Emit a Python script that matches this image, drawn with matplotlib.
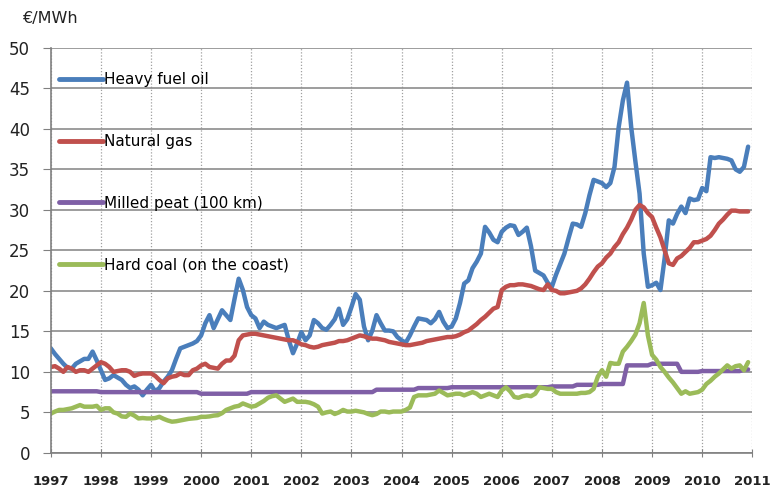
import numpy as np
import matplotlib
matplotlib.use("Agg")
import matplotlib.pyplot as plt

# monthly prices, Jan 1997 - Dec 2010 (EUR/MWh)
heavy_fuel_oil = [
    12.9, 12.2, 11.6, 11.0, 10.5, 10.4, 11.0, 11.3, 11.6, 11.6, 12.5, 11.4,   # 1997
    10.2, 9.0, 9.2, 9.6, 9.3, 9.0, 8.4, 8.0, 8.2, 7.8, 7.1, 7.8,              # 1998
    8.4, 7.6, 8.0, 8.8, 9.4, 10.2, 11.6, 12.9, 13.1, 13.3, 13.5, 13.8,       # 1999
    14.5, 16.0, 17.0, 15.4, 16.5, 17.6, 17.0, 16.4, 19.0, 21.5, 20.1, 18.0,  # 2000
    17.0, 16.6, 15.4, 16.2, 15.8, 15.6, 15.4, 15.6, 15.8, 13.9, 12.3, 13.5,  # 2001
    14.9, 13.9, 14.5, 16.4, 16.0, 15.4, 15.2, 15.8, 16.5, 17.8, 15.8, 16.5,  # 2002
    18.0, 19.6, 18.9, 15.6, 13.9, 15.1, 17.0, 16.0, 15.1, 15.1, 15.0, 14.3,  # 2003
    13.9, 13.6, 14.5, 15.6, 16.6, 16.5, 16.4, 16.0, 16.5, 17.4, 16.2, 15.4,  # 2004
    15.6, 16.6, 18.5, 20.9, 21.3, 22.8, 23.6, 24.6, 27.9, 27.2, 26.3, 26.0,  # 2005
    27.3, 27.8, 28.1, 28.0, 26.9, 27.3, 27.8, 25.5, 22.5, 22.2, 21.9, 21.0,  # 2006
    20.5, 22.0, 23.3, 24.6, 26.5, 28.3, 28.2, 27.9, 29.6, 31.8, 33.7, 33.5,  # 2007
    33.3, 32.8, 33.3, 35.3, 40.2, 43.5, 45.7, 40.2, 36.0, 32.0, 24.6, 20.5,  # 2008
    20.7, 21.0, 20.1, 24.0, 28.7, 28.3, 29.5, 30.4, 29.6, 31.4, 31.2, 31.3,  # 2009
    32.7, 32.3, 36.5, 36.4, 36.5, 36.4, 36.3, 36.1, 35.0, 34.7, 35.3, 37.8,  # 2010
]
natural_gas = [
    10.6, 10.7, 10.4, 10.0, 10.6, 10.4, 10.0, 10.2, 10.2, 10.0, 10.4, 10.8,
    11.2, 11.0, 10.6, 10.0, 10.1, 10.2, 10.2, 10.0, 9.5, 9.7, 9.8, 9.8,
    9.8, 9.5, 9.0, 8.6, 9.2, 9.4, 9.5, 9.8, 9.6, 9.6, 10.2, 10.4,
    10.8, 11.0, 10.6, 10.5, 10.4, 11.0, 11.4, 11.4, 12.0, 13.9, 14.5, 14.6,
    14.7, 14.7, 14.6, 14.5, 14.4, 14.3, 14.2, 14.1, 14.0, 13.9, 13.9, 13.7,
    13.4, 13.3, 13.1, 13.0, 13.1, 13.3, 13.4, 13.5, 13.6, 13.8, 13.8, 13.9,
    14.1, 14.3, 14.5, 14.4, 14.2, 14.1, 14.1, 14.0, 13.9, 13.7, 13.6, 13.5,
    13.4, 13.3, 13.3, 13.4, 13.5, 13.6, 13.8, 13.9, 14.0, 14.1, 14.2, 14.3,
    14.3, 14.4, 14.6, 14.9, 15.1, 15.5, 15.9, 16.4, 16.8, 17.3, 17.8, 18.0,
    20.1, 20.5, 20.7, 20.7, 20.8, 20.8, 20.7, 20.6, 20.4, 20.2, 20.1, 20.8,
    20.1, 20.0, 19.7, 19.7, 19.8, 19.9, 20.0, 20.3, 20.8, 21.5, 22.3, 23.0,
    23.4, 24.1, 24.6, 25.4, 26.0, 27.0, 27.8, 28.8, 30.0, 30.6, 30.3, 29.6,
    29.1, 27.8, 26.6, 25.0, 23.4, 23.2, 24.0, 24.3, 24.8, 25.3, 26.0, 26.0,
    26.2, 26.4, 26.8, 27.5, 28.3, 28.8, 29.4, 29.9, 29.9, 29.8, 29.8, 29.8,
]
milled_peat = (
    [7.6] * 12 + [7.5] * 12 + [7.5] * 12 + [7.3] * 12 + [7.5] * 12 + [7.5] * 12
    + [7.5] * 6 + [7.8] * 6
    + [7.8] * 4 + [8.0] * 8
    + [8.1] * 12 + [8.1] * 12
    + [8.2] * 6 + [8.4] * 6
    + [8.5] * 6 + [10.8] * 6
    + [11.0] * 7 + [10.0] * 5
    + [10.1] * 10 + [10.3] * 2
)
hard_coal = [
    4.85, 5.1, 5.3, 5.3, 5.4, 5.5, 5.7, 5.9, 5.7, 5.7, 5.7, 5.8,
    5.3, 5.5, 5.5, 5.0, 4.85, 4.5, 4.45, 4.85, 4.6, 4.25, 4.3, 4.25,
    4.25, 4.3, 4.45, 4.2, 4.0, 3.85, 3.9, 4.0, 4.1, 4.2, 4.25, 4.3,
    4.45, 4.45, 4.5, 4.6, 4.65, 4.9, 5.3, 5.5, 5.7, 5.8, 6.1, 5.9,
    5.7, 5.8, 6.1, 6.4, 6.8, 7.0, 7.1, 6.7, 6.3, 6.5, 6.7, 6.3,
    6.3, 6.3, 6.2, 6.0, 5.7, 4.85, 5.0, 5.1, 4.8, 5.0, 5.3, 5.1,
    5.1, 5.2, 5.1, 5.0, 4.8, 4.65, 4.8, 5.1, 5.1, 5.0, 5.1, 5.1,
    5.1, 5.3, 5.6, 6.9, 7.1, 7.1, 7.1, 7.2, 7.3, 7.7, 7.4, 7.1,
    7.2, 7.3, 7.3, 7.1, 7.3, 7.5, 7.3, 6.9, 7.1, 7.3, 7.1, 6.9,
    7.7, 8.1, 7.6, 6.9, 6.8, 7.0, 7.1, 7.0, 7.3, 8.1, 8.0, 7.9,
    7.9, 7.5, 7.3, 7.3, 7.3, 7.3, 7.3, 7.4, 7.4, 7.5, 7.9, 9.4,
    10.2, 9.4, 11.1, 11.0, 11.0, 12.5, 13.1, 13.8, 14.6, 16.0, 18.5, 14.5,
    12.1, 11.5, 10.6, 10.0, 9.3, 8.7, 8.0, 7.3, 7.6, 7.3, 7.4, 7.5,
    7.8, 8.5, 8.9, 9.4, 9.8, 10.3, 10.8, 10.4, 10.7, 10.8, 10.2, 11.2,
]
labels = ["Heavy fuel oil", "Natural gas", "Milled peat (100 km)", "Hard coal (on the coast)"]
colors = ["#4A7EBB", "#C0504D", "#7F5FA6", "#9BBB59"]
years = list(range(1997, 2012))

t = 1997 + np.arange(len(heavy_fuel_oil)) / 12.0

fig = plt.figure(figsize=(7.7, 4.88), dpi=100)
ax = fig.add_axes([0.066, 0.072, 0.911, 0.830])

series = [heavy_fuel_oil, natural_gas, milled_peat, hard_coal]
for vals, lab, col in zip(series, labels, colors):
    ax.plot(t, vals, color=col, lw=3.2, label=lab, solid_capstyle="round")

ax.set_xlim(1997, 2011)
ax.set_ylim(0, 50)
ax.set_xticks(years)
ax.set_xticklabels([str(y) for y in years], fontsize=9.5, fontweight="bold", color="#222222")
ax.set_yticks(range(0, 51, 5))
ax.tick_params(axis="y", labelsize=12, colors="#808080", labelcolor="#222222", length=6,
               direction="out", pad=9)
ax.tick_params(axis="x", colors="#808080", labelcolor="#222222", length=6, direction="inout", pad=13)

ax.grid(axis="y", color="#8c8c8c", lw=1.2, ls="-")
ax.grid(axis="x", color="#a0a0a0", lw=0.9, ls=(0, (1, 1.5)))
ax.set_axisbelow(True)
for s in ["top", "right"]:
    ax.spines[s].set_visible(False)
for s in ["left", "bottom"]:
    ax.spines[s].set_color("#808080")
    ax.spines[s].set_linewidth(1.2)

leg = ax.legend(loc="upper left", bbox_to_anchor=(-0.002, 0.962), frameon=False,
                fontsize=11, handlelength=2.9, handletextpad=0.05, labelspacing=3.05,
                borderaxespad=0.2)
for line in leg.get_lines():
    line.set_linewidth(3.5)

fig.text(0.028, 0.963, "€/MWh", fontsize=11.5, color="#222222", va="center", ha="left")

fig.savefig("out.png", dpi=100)
